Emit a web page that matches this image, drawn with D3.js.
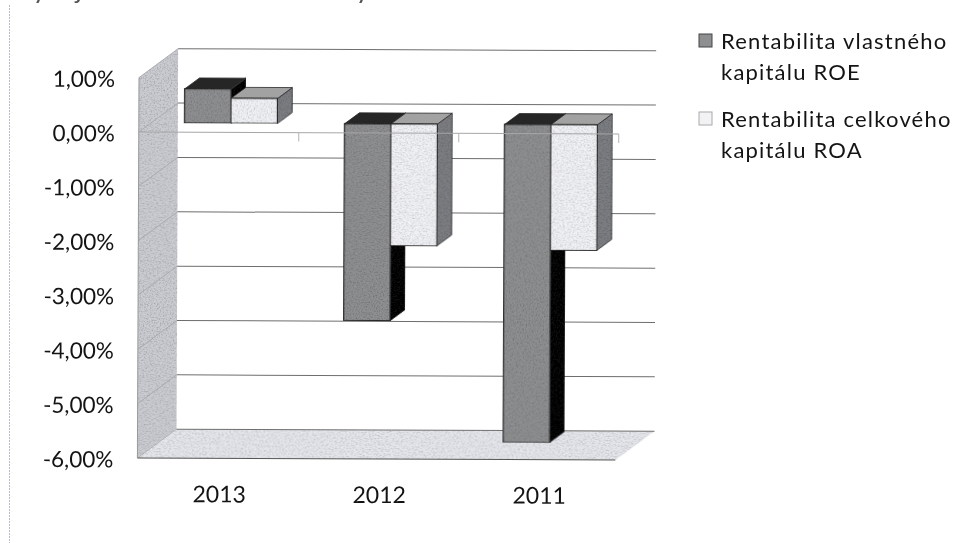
<!DOCTYPE html>
<html>
<head>
<meta charset="utf-8">
<script src="https://cdn.jsdelivr.net/npm/d3@7.9.0/dist/d3.min.js"></script>
<style>
  html, body { margin: 0; padding: 0; background: #fff; overflow: hidden; }
  svg { filter: blur(0.45px); }
  text { font-family: Lato, "Open Sans", sans-serif; fill: #141414; }
</style>
</head>
<body>
<svg id="chart" width="968" height="543"></svg>
<script>
// values, in percent
const years = ["2013", "2012", "2011"];
const roe = [0.63, -3.62, -5.85];
const roa = [0.46, -2.24, -2.31];
const yTicks = [1, 0, -1, -2, -3, -4, -5, -6];
const legendLabels = [
  ["Rentabilita vlastného", "kapitálu ROE"],
  ["Rentabilita celkového", "kapitálu ROA"]
];
// title is cut off by the scan, wording is a guess from the letter bottoms
const title = "Vývoj ukazovateľov rentability ROE a ROA";

const svg = d3.select("#chart");
const width = +svg.attr("width");
const height = +svg.attr("height");

// 3D box: the front plane is drawn with the scales, depth is a fixed shift
const depthX = 39;
const depthY = -29;
const barDepth = [0.31, 0.69];
const floorRight = 617;

const x = d3.scaleBand().domain(years).range([139, 619]).paddingInner(0.42).paddingOuter(0.21);
const x1 = d3.scaleBand().domain([0, 1]).range([0, x.bandwidth()]);
const y = d3.scaleLinear().domain([-6, 1]).range([458, 77.6]);

const pt = (px, py, d) => [px + d * depthX, py + d * depthY];
const poly = pts => pts.map(p => p.join(",")).join(" ");

// grain for the scanned look
const defs = svg.append("defs");
const grain = defs.append("filter").attr("id", "grain")
  .attr("x", 0).attr("y", 0).attr("width", 1).attr("height", 1);
grain.append("feTurbulence").attr("type", "fractalNoise").attr("baseFrequency", 0.7)
  .attr("numOctaves", 2).attr("seed", 3).attr("result", "n");
grain.append("feColorMatrix").attr("in", "n").attr("type", "matrix")
  .attr("values", "0 0 0 0 0  0 0 0 0 0  0 0 0 0 0  0 0 0 -1.0 0.56").attr("result", "a");
grain.append("feComposite").attr("in", "a").attr("in2", "SourceGraphic").attr("operator", "in").attr("result", "b");
grain.append("feMerge").selectAll("feMergeNode").data(["SourceGraphic", "b"]).enter()
  .append("feMergeNode").attr("in", d => d);

// dotted frame of the embedded chart on the left
svg.append("line").attr("x1", 9.5).attr("x2", 9.5).attr("y1", 5).attr("y2", height)
  .attr("stroke", "#b9bcc6").attr("stroke-dasharray", "2,1");

svg.append("text").attr("x", 15).attr("y", -2).style("font-size", "27px").style("fill", "#555")
  .text(title);

const chart = svg.append("g").attr("transform", "rotate(0.24 139 77)");

// walls
chart.append("polygon").attr("filter", "url(#grain)").attr("fill", "#cbccd2")
  .attr("points", poly([pt(139, y(1), 0), pt(139, y(1), 1), pt(139, y(-6), 1), pt(139, y(-6), 0)]));
chart.append("polygon").attr("filter", "url(#grain)").attr("fill", "#e6e7ec")
  .attr("points", poly([pt(139, y(-6), 0), pt(139, y(-6), 1), pt(floorRight, y(-6), 1), pt(floorRight, y(-6), 0)]));

// gridlines on both walls
yTicks.forEach(t => {
  chart.append("polyline").attr("fill", "none").attr("stroke", "#a2a4a8").attr("stroke-width", 0.8)
    .attr("points", poly([pt(139, y(t), 0), pt(139, y(t), 1)]));
  chart.append("polyline").attr("fill", "none").attr("stroke", "#6e6e6e").attr("stroke-width", 1)
    .attr("points", poly([pt(139, y(t), 1), pt(floorRight, y(t), 1)]));
});
chart.append("line").attr("x1", 139).attr("x2", floorRight).attr("y1", y(-6)).attr("y2", y(-6))
  .attr("stroke", "#555");
chart.append("line").attr("x1", 139).attr("x2", 139).attr("y1", y(1)).attr("y2", y(-6))
  .attr("stroke", "#999");

// one box per value, ROE first so that ROA covers its dark side
function drawBox(g, year, i, v, col) {
  const x0 = x(year) + x1(i);
  const x2 = x0 + x1.bandwidth();
  const top = y(Math.max(v, 0));
  const bot = y(Math.min(v, 0));
  const [d0, d1] = barDepth;
  const stroke = "#2a2a2a";
  g.append("polygon").attr("fill", col.side).attr("stroke", stroke).attr("stroke-width", 0.8)
    .attr("filter", "url(#grain)")
    .attr("points", poly([pt(x2, top, d0), pt(x2, top, d1), pt(x2, bot, d1), pt(x2, bot, d0)]));
  g.append("polygon").attr("fill", col.top).attr("stroke", stroke).attr("stroke-width", 0.8)
    .attr("points", poly([pt(x0, top, d0), pt(x0, top, d1), pt(x2, top, d1), pt(x2, top, d0)]));
  g.append("polygon").attr("fill", col.front).attr("stroke", stroke).attr("stroke-width", 1.2)
    .attr("filter", "url(#grain)")
    .attr("points", poly([pt(x0, top, d0), pt(x2, top, d0), pt(x2, bot, d0), pt(x0, bot, d0)]));
}

const roeCol = { front: "#8e8f91", top: "#262626", side: "#0c0c0c" };
const roaCol = { front: "#f1f2f6", top: "#a2a2a2", side: "#7c7e82" };

years.forEach((year, k) => {
  const g = chart.append("g").attr("class", "bars");
  drawBox(g, year, 0, roe[k], roeCol);
  drawBox(g, year, 1, roa[k], roaCol);
});

// zero axis line with ticks, runs over the bars in light grey
chart.append("line").attr("x1", 139).attr("x2", 619).attr("y1", y(0)).attr("y2", y(0))
  .attr("stroke", "#a6a6a6").attr("stroke-width", 1);
years.forEach(year => {
  const tx = x(year) + x.bandwidth() / 2 + x.step() / 2;
  chart.append("line").attr("x1", tx).attr("x2", tx).attr("y1", y(0)).attr("y2", y(0) + 9)
    .attr("stroke", "#b4b4b4");
});

// value labels
chart.selectAll("text.ytick").data(yTicks).enter().append("text")
  .attr("class", "ytick")
  .attr("x", 115).attr("y", d => y(d)).attr("dy", "0.42em")
  .attr("text-anchor", "end").style("font-size", "22.5px")
  .text(d => d3.format(".2f")(d).replace(".", ",").replace("−", "-") + "%");

// category labels
chart.selectAll("text.xtick").data(years).enter().append("text")
  .attr("class", "xtick")
  .attr("x", d => x(d) + x.bandwidth() / 2 + 2).attr("y", 502)
  .attr("text-anchor", "middle").style("font-size", "23px")
  .text(d => d);

// legend
const legendY = [49, 127];
const swatch = ["#8e8f91", "#f2f2f5"];
legendLabels.forEach((lines, i) => {
  svg.append("rect").attr("x", 699).attr("y", legendY[i] - 15).attr("width", 13).attr("height", 13)
    .attr("fill", swatch[i]).attr("stroke", i ? "#aaa" : "#444");
  lines.forEach((s, j) => {
    svg.append("text").attr("x", 721).attr("y", legendY[i] + j * 30.5)
      .style("font-size", "22px").style("letter-spacing", "1.2px").text(s);
  });
});
</script>
</body>
</html>
